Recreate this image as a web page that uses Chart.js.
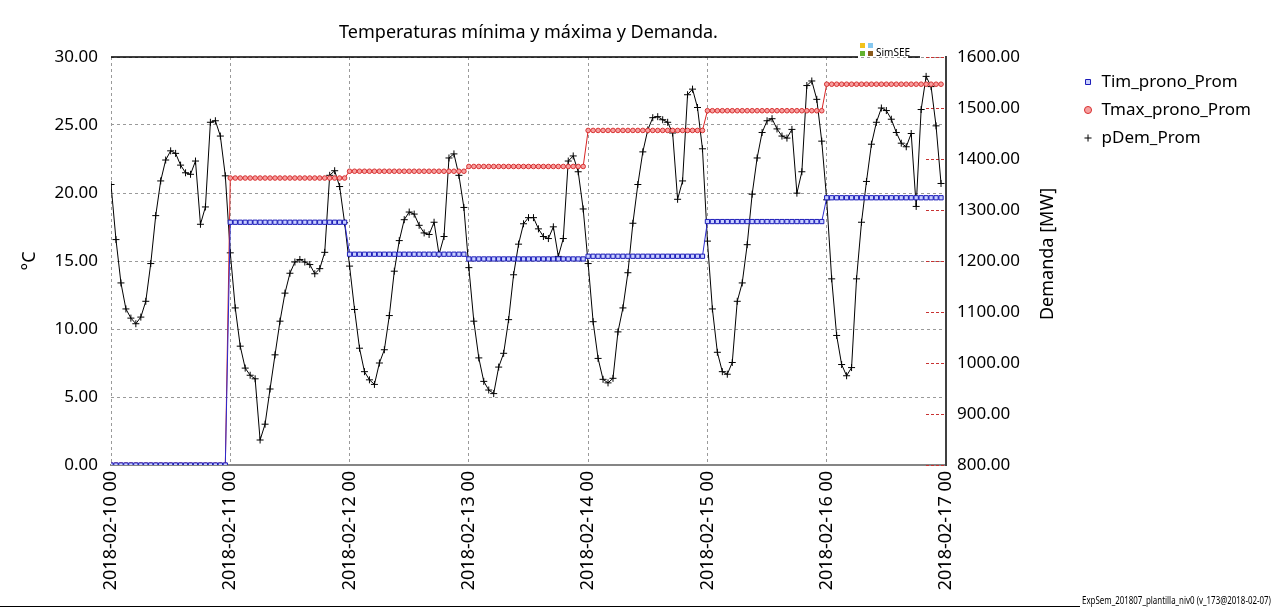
<!DOCTYPE html>
<html>
<head>
<meta charset="utf-8">
<script src="https://cdn.jsdelivr.net/npm/chart.js@4.4.1/dist/chart.umd.min.js"></script>
<style>
  html, body { margin: 0; padding: 0; background: #fff; }
  #wrap { width: 1275px; height: 610px; }
</style>
</head>
<body>
<div id="wrap"><canvas id="chart" width="1275" height="610"></canvas></div>
<script>
// tick labels for the days (x axis, one every 24 h)
const dayLabels = [
  "2018-02-10 00", "2018-02-11 00", "2018-02-12 00", "2018-02-13 00",
  "2018-02-14 00", "2018-02-15 00", "2018-02-16 00", "2018-02-17 00"
]

// forecast temperatures, one value per day (°C)
const tminDaily = [0, 17.85, 15.5, 15.15, 15.35, 17.9, 19.65]
const tmaxDaily = [0, 21.1, 21.6, 21.95, 24.6, 26.05, 28.0]

// hourly demand (MW), 2018-02-10 00h .. 2018-02-16 23h
const demanda = [
  1350, 1242, 1157, 1106, 1088, 1077, 1090, 1121, 1195, 1289, 1357, 1398,
  1416, 1411, 1388, 1373, 1370, 1396, 1272, 1306, 1472, 1475, 1445, 1367,
  1216, 1108, 1033, 990, 976, 969, 849, 880, 949, 1016, 1082, 1137,
  1176, 1198, 1203, 1198, 1193, 1175, 1185, 1217, 1368, 1377, 1346, 1275,
  1190, 1105, 1029, 983, 967, 958, 1000, 1026, 1093, 1180, 1240, 1281,
  1296, 1292, 1270, 1255, 1252, 1276, 1213, 1248, 1402, 1410, 1368, 1305,
  1187, 1082, 1010, 964, 947, 940, 992, 1019, 1085, 1173, 1233, 1273,
  1285, 1285, 1263, 1248, 1244, 1267, 1209, 1244, 1396, 1406, 1375, 1302,
  1195, 1081, 1009, 968, 961, 970, 1061, 1108, 1177, 1274, 1350, 1414,
  1457, 1481, 1483, 1477, 1472, 1451, 1321, 1357, 1526, 1537, 1501, 1420,
  1239, 1106, 1021, 983, 978, 1001, 1121, 1157, 1232, 1331, 1402, 1452,
  1475, 1479, 1459, 1445, 1441, 1458, 1333, 1375, 1544, 1553, 1517, 1435,
  1320, 1165, 1054, 997, 975, 991, 1165, 1276, 1356, 1429, 1472, 1500,
  1495, 1478, 1452, 1431, 1424, 1450, 1307, 1497, 1562, 1542, 1465, 1352
]

const FONT = "'Noto Sans', 'Open Sans', sans-serif"
const PAD_R = 14
const AREA_LEFT = 111, AREA_RIGHT = 946

// temperatures are constant over each day -> one point per hour
const hourly = daily => demanda.map((_, h) => ({ x: h, y: daily[Math.floor(h / 24)] }))

const extras = {
  id: "extras",
  beforeDatasetsDraw(chart) {
    const { ctx, chartArea: a, scales: { y1 } } = chart
    ctx.save()
    // short red dashes marking the demand ticks
    ctx.strokeStyle = "#c83232"
    ctx.lineWidth = 1
    ctx.setLineDash([3, 2])
    y1.ticks.forEach(t => {
      const y = Math.round(y1.getPixelForValue(t.value)) + 0.5
      ctx.beginPath()
      ctx.moveTo(a.right - 20, y)
      ctx.lineTo(a.right, y)
      ctx.stroke()
    })
    ctx.restore()
  },
  afterDraw(chart) {
    const { ctx, chartArea: a } = chart
    ctx.save()
    // top frame line with the SimSEE mark
    ctx.strokeStyle = "#000"
    ctx.lineWidth = 1.5
    ctx.beginPath()
    ctx.moveTo(a.left, a.top); ctx.lineTo(858, a.top)
    ctx.moveTo(908, a.top); ctx.lineTo(920, a.top)
    ctx.stroke()
    ctx.fillStyle = "#f2c21b"; ctx.fillRect(860, 43, 5, 5)
    ctx.fillStyle = "#86c8f0"; ctx.fillRect(868, 43, 5, 5)
    ctx.fillStyle = "#62b22f"; ctx.fillRect(860, 51, 5, 5)
    ctx.fillStyle = "#8a5a1c"; ctx.fillRect(868, 51, 5, 5)
    ctx.fillStyle = "#000"
    ctx.font = "10px " + FONT
    ctx.textBaseline = "alphabetic"
    ctx.fillText("SimSEE", 876, 56)

    // right axis title, reading bottom to top
    ctx.save()
    ctx.translate(1048, 254)
    ctx.rotate(-Math.PI / 2)
    ctx.font = "18px " + FONT
    ctx.textAlign = "center"
    ctx.textBaseline = "middle"
    ctx.fillText("Demanda [MW]", 0, 0)
    ctx.restore()

    // footer
    const note = "ExpSem_201807_plantilla_niv0 (v_173@2018-02-07)"
    ctx.font = "11px " + FONT
    const w = ctx.measureText(note).width * 0.72
    ctx.save()
    ctx.translate(1271 - w, 604)
    ctx.scale(0.72, 1)
    ctx.textBaseline = "alphabetic"
    ctx.fillText(note, 0, 0)
    ctx.restore()
    ctx.lineWidth = 1
    ctx.beginPath()
    ctx.moveTo(0, 606.5); ctx.lineTo(1271 - w - 2, 606.5)
    ctx.stroke()
    ctx.restore()
  }
}

new Chart(document.getElementById("chart"), {
  type: "line",
  data: {
    datasets: [
      {
        label: "Tim_prono_Prom",
        data: hourly(tminDaily),
        borderColor: "#2a2ad0",
        borderWidth: 1,
        pointStyle: "rect",
        pointRadius: 3,
        pointBorderColor: "#1c1cb8",
        pointBackgroundColor: "#c8d0ff",
        pointBorderWidth: 1,
        yAxisID: "y"
      },
      {
        label: "Tmax_prono_Prom",
        data: hourly(tmaxDaily),
        borderColor: "#d82424",
        borderWidth: 1,
        pointStyle: "circle",
        pointRadius: 2.3,
        pointBorderColor: "#d83030",
        pointBackgroundColor: "#f6a0a0",
        pointBorderWidth: 1,
        yAxisID: "y"
      },
      {
        label: "pDem_Prom",
        data: demanda.map((v, h) => ({ x: h, y: v })),
        borderColor: "#000",
        borderWidth: 1,
        pointStyle: "cross",
        pointRadius: 3.5,
        pointBorderColor: "#000",
        pointBorderWidth: 1,
        yAxisID: "y1"
      }
    ]
  },
  options: {
    responsive: false,
    animation: false,
    devicePixelRatio: 1,
    layout: { padding: { top: 0, left: 0, right: PAD_R, bottom: 0 } },
    plugins: {
      title: {
        display: true,
        fullSize: false,
        text: "Temperaturas mínima y máxima y Demanda.",
        color: "#000",
        font: { family: FONT, size: 18, weight: "normal" },
        padding: { top: 22, bottom: 13.4 }
      },
      legend: {
        position: "right",
        align: "start",
        title: { display: true, text: "", font: { size: 10 }, padding: { top: 50.5, bottom: 0 } },
        labels: {
          usePointStyle: true,
          boxWidth: 10,
          boxHeight: 5,
          padding: 11,
          color: "#000",
          font: { family: FONT, size: 17 }
        }
      },
      tooltip: { enabled: false }
    },
    scales: {
      x: {
        type: "linear",
        min: 0,
        max: 168,
        afterFit: s => { s.height = 145 },
        ticks: {
          stepSize: 24,
          autoSkip: false,
          minRotation: 90,
          maxRotation: 90,
          padding: 6,
          color: "#000",
          font: { family: FONT, size: 18 },
          callback: v => dayLabels[v / 24]
        },
        grid: { color: "#9a9a9a", drawTicks: false },
        border: { color: "#858585", width: 2, dash: [3, 3] }
      },
      y: {
        position: "left",
        min: 0,
        max: 30,
        afterFit: s => { s.width = AREA_LEFT },
        ticks: {
          stepSize: 5,
          padding: 13,
          color: "#000",
          font: { family: FONT, size: 17 },
          callback: v => v.toFixed(2)
        },
        title: {
          display: true,
          text: "°C",
          color: "#000",
          font: { family: FONT, size: 18 },
          padding: { top: 19, bottom: 0 }
        },
        grid: { color: "#9a9a9a", drawTicks: false },
        border: { display: false, dash: [3, 3] }
      },
      y1: {
        position: "right",
        min: 800,
        max: 1600,
        afterFit: s => { s.width = s.chart.width - PAD_R - s.chart.legend.width - AREA_RIGHT },
        ticks: {
          stepSize: 100,
          padding: 11,
          color: "#000",
          font: { family: FONT, size: 17 },
          callback: v => v.toFixed(2)
        },
        grid: { drawOnChartArea: false, drawTicks: false },
        border: { color: "#404040", width: 2 }
      }
    }
  },
  plugins: [extras]
})
</script>
</body>
</html>
